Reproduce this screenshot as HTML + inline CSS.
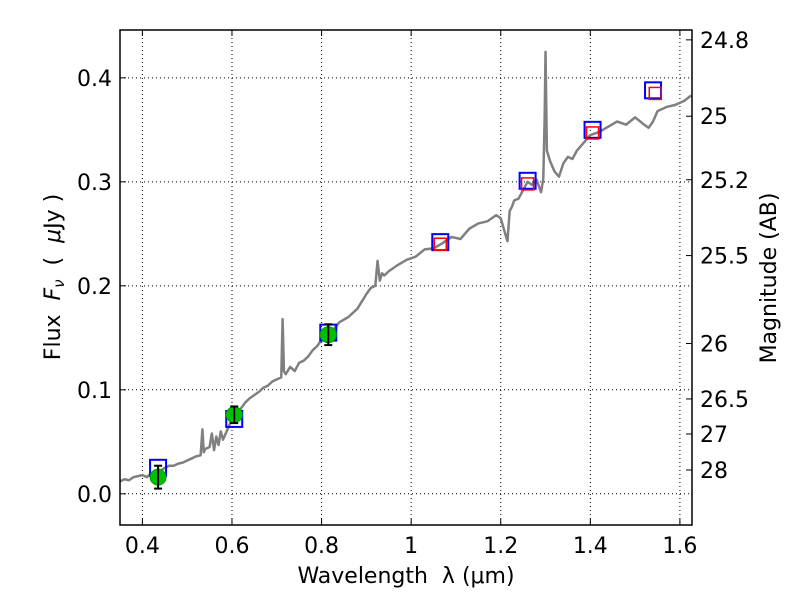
<!DOCTYPE html>
<html><head><meta charset="utf-8"><style>body{margin:0;background:#fff}svg text{font-family:"DejaVu Sans","Liberation Sans",sans-serif;fill:#000}</style></head>
<body>
<svg id="c" width="800" height="600"></svg>
<script>
const specX=[0.35,0.36,0.37,0.38,0.39,0.40,0.41,0.42,0.43,0.44,0.45,0.46,0.47,0.48,0.49,0.50,0.51,0.52,0.53,0.534,0.537,0.54,0.55,0.555,0.56,0.565,0.57,0.575,0.58,0.59,0.60,0.61,0.62,0.63,0.64,0.65,0.66,0.67,0.68,0.69,0.70,0.71,0.713,0.716,0.72,0.73,0.74,0.75,0.76,0.77,0.78,0.79,0.80,0.82,0.84,0.86,0.88,0.90,0.91,0.92,0.925,0.93,0.935,0.94,0.95,0.97,0.99,1.01,1.03,1.05,1.07,1.09,1.11,1.13,1.15,1.17,1.19,1.20,1.21,1.215,1.22,1.225,1.23,1.24,1.25,1.26,1.27,1.28,1.29,1.295,1.298,1.30,1.303,1.31,1.32,1.33,1.34,1.35,1.36,1.37,1.38,1.39,1.40,1.42,1.44,1.46,1.48,1.50,1.52,1.53,1.54,1.55,1.57,1.59,1.61,1.625];
const specY=[0.012,0.014,0.013,0.016,0.017,0.018,0.016,0.020,0.019,0.022,0.025,0.027,0.027,0.029,0.030,0.032,0.034,0.036,0.037,0.062,0.040,0.043,0.045,0.058,0.042,0.055,0.047,0.060,0.052,0.062,0.072,0.078,0.082,0.088,0.092,0.095,0.098,0.102,0.104,0.108,0.11,0.112,0.168,0.118,0.115,0.122,0.118,0.126,0.128,0.132,0.138,0.142,0.148,0.155,0.165,0.170,0.178,0.192,0.198,0.200,0.224,0.205,0.212,0.210,0.214,0.220,0.225,0.228,0.235,0.236,0.241,0.247,0.245,0.255,0.260,0.262,0.268,0.265,0.250,0.243,0.272,0.276,0.282,0.284,0.292,0.300,0.297,0.302,0.290,0.303,0.360,0.425,0.330,0.320,0.310,0.305,0.318,0.324,0.322,0.330,0.335,0.340,0.345,0.348,0.353,0.358,0.355,0.362,0.355,0.352,0.358,0.368,0.372,0.374,0.378,0.383,0.387];
const modelX=[0.435,0.605,0.815,1.065,1.26,1.405,1.54];
const modelY=[0.025,0.072,0.155,0.242,0.301,0.35,0.388];
const redX=[1.065,1.26,1.405,1.545];
const redY=[0.240,0.298,0.347,0.385];
const obsX=[0.435,0.605,0.815];
const obsY=[0.016,0.076,0.153];
const obsErr=[0.011,0.008,0.010];
const xTicks=[0.4,0.6,0.8,1.0,1.2,1.4,1.6];
const xTickLabels=["0.4","0.6","0.8","1","1.2","1.4","1.6"];
const yTicks=[0.0,0.1,0.2,0.3,0.4];
const yTickLabels=["0.0","0.1","0.2","0.3","0.4"];
const magTicks=[24.8,25,25.2,25.5,26,26.5,27,28];
const magTickLabels=["24.8","25","25.2","25.5","26","26.5","27","28"];

const L=120,R=692,T=30,B=525,x0=0.35,x1=1.627,y0=-0.03,y1=0.446;
const sx=v=>L+(v-x0)/(x1-x0)*(R-L);
const sy=v=>B-(v-y0)/(y1-y0)*(B-T);
const svg=document.getElementById('c');const NS='http://www.w3.org/2000/svg';
function mk(t,a,p){const e=document.createElementNS(NS,t);for(const k in a)e.setAttribute(k,a[k]);(p||svg).appendChild(e);return e;}
const grid=mk('g',{});
xTicks.forEach((v,i)=>{const g=mk('g',{});


mk('line',{x1:sx(v),x2:sx(v),y1:T,y2:B,stroke:'#000','stroke-dasharray':'1,3','stroke-width':1},grid);
mk('line',{x1:sx(v),x2:sx(v),y1:B,y2:B-6,stroke:'#000'},g);mk('line',{x1:sx(v),x2:sx(v),y1:T,y2:T+6,stroke:'#000'},g);
const t=mk('text',{x:sx(v),y:B+28,'text-anchor':'middle','font-size':22},g);t.textContent=xTickLabels[i];});
yTicks.forEach((v,i)=>{const g=mk('g',{});


mk('line',{x1:L,x2:R,y1:sy(v),y2:sy(v),stroke:'#000','stroke-dasharray':'1,3','stroke-width':1},grid);
mk('line',{x1:L,x2:L+6,y1:sy(v),y2:sy(v),stroke:'#000'},g);
const t=mk('text',{x:L-8,y:sy(v)+8,'text-anchor':'end','font-size':22},g);t.textContent=yTickLabels[i];});
magTicks.forEach((m,i)=>{const f=Math.pow(10,(23.9-m)/2.5);const g=mk('g',{});


mk('line',{x1:R-6,x2:R,y1:sy(f),y2:sy(f),stroke:'#000'},g);
const t=mk('text',{x:R+8,y:sy(f)+8,'font-size':22},g);t.textContent=magTickLabels[i];});
const sp=mk('polyline',{points:specX.map((v,i)=>sx(v)+','+sy(specY[i])).join(' '),fill:'none',stroke:'#808080','stroke-width':2.5,'stroke-linejoin':'round'});


modelX.forEach((v,i)=>{const r=mk('rect',{x:sx(v)-8,y:sy(modelY[i])-8,width:16,height:16,fill:'none',stroke:'#0000ff','stroke-width':2});

});
redX.forEach((v,i)=>{const r=mk('rect',{x:sx(v)-6,y:sy(redY[i])-6,width:12,height:12,fill:'none',stroke:'#ff0000','stroke-width':1.5});

});
obsX.forEach((v,i)=>{const g=mk('g',{});


mk('circle',{cx:sx(v),cy:sy(obsY[i]),r:8,fill:'#00c000',stroke:'#00a000'},g);
const a=sy(obsY[i]+obsErr[i]),b=sy(obsY[i]-obsErr[i]),x=sx(v);
mk('line',{x1:x,x2:x,y1:a,y2:b,stroke:'#000','stroke-width':2},g);
mk('line',{x1:x-4,x2:x+4,y1:a,y2:a,stroke:'#000','stroke-width':2},g);
mk('line',{x1:x-4,x2:x+4,y1:b,y2:b,stroke:'#000','stroke-width':2},g);});
const fr=mk('rect',{x:L,y:T,width:R-L,height:B-T,fill:'none',stroke:'#000','stroke-width':1.5});


</script>
<svg width="800" height="600" style="position:absolute;left:0;top:0">
<text x="406" y="583" text-anchor="middle" font-size="22" xml:space="preserve">Wavelength  λ (μm)</text>
<text transform="translate(60,277) rotate(-90)" text-anchor="middle" font-size="22" xml:space="preserve">Flux  <tspan font-style="italic">F</tspan><tspan font-size="15" dy="4" font-style="italic">ν</tspan><tspan dy="-4">  (  </tspan><tspan font-style="italic">μ</tspan>Jy )</text>
<text transform="translate(776,278) rotate(-90)" text-anchor="middle" font-size="22">Magnitude (AB)</text>
</svg>
</body></html>
